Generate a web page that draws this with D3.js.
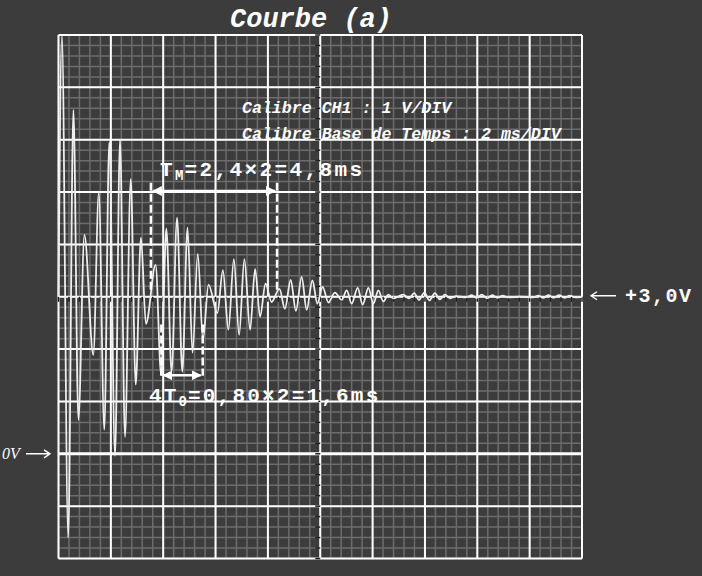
<!DOCTYPE html>
<html lang="fr">
<head>
  <meta charset="UTF-8">
  <title>Courbe (a)</title>
  <script src="https://d3js.org/d3.v7.min.js"></script>
  <style>
    html, body { margin: 0; padding: 0; background: #3c3c3c; }
    svg { display: block; }
  </style>
</head>
<body>
  <script>
    // peaks and troughs of the trace (t in ms, u in V)
    var times = [0, 0.13, 0.37, 0.57, 0.76, 0.99, 1.33, 1.54, 1.75, 1.94,
                 2.16, 2.35, 2.54, 2.76, 2.95, 3.15, 3.34, 3.71, 3.92, 4.12,
                 4.32, 4.53, 4.73, 4.93, 5.12, 5.32, 5.52, 5.73, 6.07, 6.28,
                 6.49, 6.70, 6.90, 7.10, 7.32, 7.51, 7.70, 7.91, 8.14, 8.44,
                 8.65, 8.87, 9.07, 9.29, 9.48, 9.70, 9.89, 10.09, 10.31, 10.56,
                 10.82, 11.01, 11.20, 11.43, 11.62, 11.84, 12.03, 12.22, 12.41, 12.60,
                 12.79, 13.17, 13.39, 13.59, 13.77, 13.98, 14.17, 14.38, 14.57, 14.76,
                 14.96, 15.19, 15.57, 15.79, 15.98, 16.17, 16.37, 16.57, 16.77, 16.97,
                 17.17, 17.63, 18.13, 18.33, 18.52, 18.71, 18.91, 19.13, 19.33, 19.53,
                 19.76, 20];
    var volts = [3.0, 8.0, -1.6, 6.57, 0.65, 4.18, 1.89, 4.99, 0.46, 5.96,
                 -0.04, 6.0, 0.32, 5.25, 1.32, 4.13, 2.48, 3.61, 1.51, 4.30,
                 1.57, 4.51, 1.57, 4.32, 1.93, 3.82, 2.18, 3.23, 2.69, 3.51,
                 2.37, 3.72, 2.27, 3.72, 2.37, 3.53, 2.62, 3.25, 2.90, 3.15,
                 2.77, 3.32, 2.73, 3.38, 2.75, 3.31, 2.87, 3.19, 2.89, 3.08,
                 2.94, 3.12, 2.87, 3.17, 2.85, 3.17, 2.87, 3.12, 2.91, 3.04,
                 2.97, 3.04, 2.97, 3.07, 2.94, 3.08, 2.93, 3.07, 2.95, 3.04,
                 2.97, 3.01, 2.99, 3.03, 2.98, 3.04, 2.97, 3.03, 2.98, 3.02,
                 2.99, 3.0, 2.99, 3.02, 2.98, 3.03, 2.98, 3.03, 2.98, 3.02,
                 2.99, 3.0];

    // screen settings
    var divTime = 2;   // ms/DIV
    var divVolt = 1;   // V/DIV
    var timeRange = [0, 20];
    var voltRange = [-2, 8];
    var offsetVolt = 3.0;

    // annotations (ms / V)
    var tmMarks = [3.53, 8.35];
    var t0Marks = [3.93, 5.51];

    var w = 702;
    var h = 576;

    var x = d3.scaleLinear().domain(timeRange).range([58.5, 582]);
    var y = d3.scaleLinear().domain(voltRange).range([558.5, 35]);

    var svg = d3.select("body")
                .append("svg")
                .attr("width", w)
                .attr("height", h);

    svg.append("rect")
       .attr("width", w)
       .attr("height", h)
       .attr("fill", "#3c3c3c");

    var defs = svg.append("defs");
    defs.append("marker")
        .attr("id", "head")
        .attr("viewBox", "0 0 10 10")
        .attr("refX", 9).attr("refY", 5)
        .attr("markerWidth", 4).attr("markerHeight", 4)
        .attr("orient", "auto-start-reverse")
        .append("path")
        .attr("d", "M0,0 L10,5 L0,10 z")
        .attr("fill", "#fff");

    // grid
    var minorT = d3.range(timeRange[0], timeRange[1] + 0.01, divTime / 5);
    var minorV = d3.range(voltRange[0], voltRange[1] + 0.01, divVolt / 5);
    var majorT = d3.range(timeRange[0], timeRange[1] + 0.01, divTime);
    var majorV = d3.range(voltRange[0], voltRange[1] + 0.01, divVolt);

    var grid = svg.append("g");
    grid.selectAll(".mv").data(minorT).enter().append("line")
        .attr("x1", d => x(d)).attr("x2", d => x(d))
        .attr("y1", y(voltRange[0])).attr("y2", y(voltRange[1]))
        .attr("stroke", "#6c6c6c").attr("stroke-width", 1.5);
    grid.selectAll(".mh").data(minorV).enter().append("line")
        .attr("y1", d => y(d)).attr("y2", d => y(d))
        .attr("x1", x(timeRange[0])).attr("x2", x(timeRange[1]))
        .attr("stroke", "#6c6c6c").attr("stroke-width", 1.5);
    grid.selectAll(".Mv").data(majorT).enter().append("line")
        .attr("x1", d => x(d)).attr("x2", d => x(d))
        .attr("y1", y(voltRange[0])).attr("y2", y(voltRange[1]))
        .attr("stroke", "#fff").attr("stroke-width", 2);
    grid.selectAll(".Mh").data(majorV).enter().append("line")
        .attr("y1", d => y(d)).attr("y2", d => y(d))
        .attr("x1", x(timeRange[0])).attr("x2", x(timeRange[1]))
        .attr("stroke", "#fff").attr("stroke-width", d => d === 0 ? 3 : 2);

    // graduations on the centre axes
    var midT = (timeRange[0] + timeRange[1]) / 2;
    var midV = (voltRange[0] + voltRange[1]) / 2;
    grid.selectAll(".tv").data(minorV).enter().append("line")
        .attr("x1", x(midT) - 5).attr("x2", x(midT))
        .attr("y1", d => y(d)).attr("y2", d => y(d))
        .attr("stroke", "#1e1e1e").attr("stroke-width", 1.5);
    grid.selectAll(".th").data(minorT).enter().append("line")
        .attr("x1", d => x(d)).attr("x2", d => x(d))
        .attr("y1", y(midV)).attr("y2", y(midV) + 5)
        .attr("stroke", "#1e1e1e").attr("stroke-width", 1.5);

    // trace
    var pts = times.map((t, i) => [t, volts[i]]);
    var line = d3.line()
                 .x(d => x(d[0]))
                 .y(d => y(d[1]))
                 .curve(d3.curveMonotoneX);
    svg.append("path")
       .datum(pts)
       .attr("d", line)
       .attr("fill", "none")
       .attr("stroke", "#eeeeee")
       .attr("stroke-width", 1.8);

    // T_M annotation
    var ann = svg.append("g").attr("stroke", "#fff").attr("fill", "none");
    ann.selectAll(".dm").data(tmMarks).enter().append("line")
       .attr("x1", d => x(d)).attr("x2", d => x(d))
       .attr("y1", y(5.18)).attr("y2", y(3.1))
       .attr("stroke-width", 2.5).attr("stroke-dasharray", "8,3");
    ann.append("line")
       .attr("x1", x(tmMarks[0]) + 2).attr("x2", x(tmMarks[1]) - 2)
       .attr("y1", y(5.02)).attr("y2", y(5.02))
       .attr("stroke-width", 2.5)
       .attr("marker-start", "url(#head)").attr("marker-end", "url(#head)");

    ann.selectAll(".d0").data(t0Marks).enter().append("line")
       .attr("x1", d => x(d)).attr("x2", d => x(d))
       .attr("y1", y(2.47)).attr("y2", y(1.49))
       .attr("stroke-width", 2.5).attr("stroke-dasharray", "8,3");
    ann.append("line")
       .attr("x1", x(t0Marks[0]) + 2).attr("x2", x(t0Marks[1]) - 2)
       .attr("y1", y(1.5)).attr("y2", y(1.5))
       .attr("stroke-width", 2.5)
       .attr("marker-start", "url(#head)").attr("marker-end", "url(#head)");

    var mono = "'Liberation Mono', 'DejaVu Sans Mono', monospace";

    var tm = svg.append("text")
       .attr("x", 160).attr("y", 176)
       .attr("fill", "#fff")
       .style("font-family", mono).style("font-weight", "bold")
       .style("font-size", "21px").style("letter-spacing", "2.4px");
    tm.append("tspan").text("T");
    tm.append("tspan").attr("dy", 4).style("font-size", "14px").style("letter-spacing", "1px").text("M");
    tm.append("tspan").attr("dy", -4).text("=2,4×2=4,8ms");

    var t0 = svg.append("text")
       .attr("x", 149).attr("y", 402)
       .attr("fill", "#fff")
       .style("font-family", mono).style("font-weight", "bold")
       .style("font-size", "21px").style("letter-spacing", "2.2px");
    t0.append("tspan").text("4T");
    t0.append("tspan").attr("dy", 4).style("font-size", "14px").style("letter-spacing", "1px").text("0");
    t0.append("tspan").attr("dy", -4).text("=0,80×2=1,6ms");

    // title and calibres
    svg.append("text")
       .attr("x", 230).attr("y", 27)
       .attr("fill", "#fff")
       .style("font-family", mono).style("font-weight", "bold")
       .style("font-style", "italic").style("font-size", "27px")
       .text("Courbe (a)");

    svg.append("text")
       .attr("x", 242).attr("y", 113)
       .attr("fill", "#fff")
       .style("font-family", mono).style("font-weight", "bold")
       .style("font-style", "italic").style("font-size", "16.6px")
       .text("Calibre CH1 : " + divVolt + " V/DIV");
    svg.append("text")
       .attr("x", 242).attr("y", 139)
       .attr("fill", "#fff")
       .style("font-family", mono).style("font-weight", "bold")
       .style("font-style", "italic").style("font-size", "16.6px")
       .text("Calibre Base de Temps : " + divTime + " ms/DIV");

    // level markers
    var yOff = y(offsetVolt) - 1;
    svg.append("path")
       .attr("d", "M616," + yOff + " L591," + yOff + " M597," + (yOff - 4) + " L591," + yOff + " L597," + (yOff + 4))
       .attr("stroke", "#fff").attr("stroke-width", 1.4).attr("fill", "none");
    svg.append("text")
       .attr("x", 625).attr("y", y(offsetVolt) + 5)
       .attr("fill", "#fff")
       .style("font-family", mono).style("font-weight", "bold")
       .style("font-size", "20px").style("letter-spacing", "1.5px")
       .text("+3,0V");

    var y0 = y(0);
    svg.append("path")
       .attr("d", "M26," + y0 + " L50," + y0 + " M44," + (y0 - 4) + " L50," + y0 + " L44," + (y0 + 4))
       .attr("stroke", "#fff").attr("stroke-width", 1.4).attr("fill", "none");
    svg.append("text")
       .attr("x", 2).attr("y", y0 + 5)
       .attr("fill", "#fff")
       .style("font-family", "'Liberation Serif', serif")
       .style("font-style", "italic").style("font-size", "16px")
       .text("0V");
  </script>
</body>
</html>
